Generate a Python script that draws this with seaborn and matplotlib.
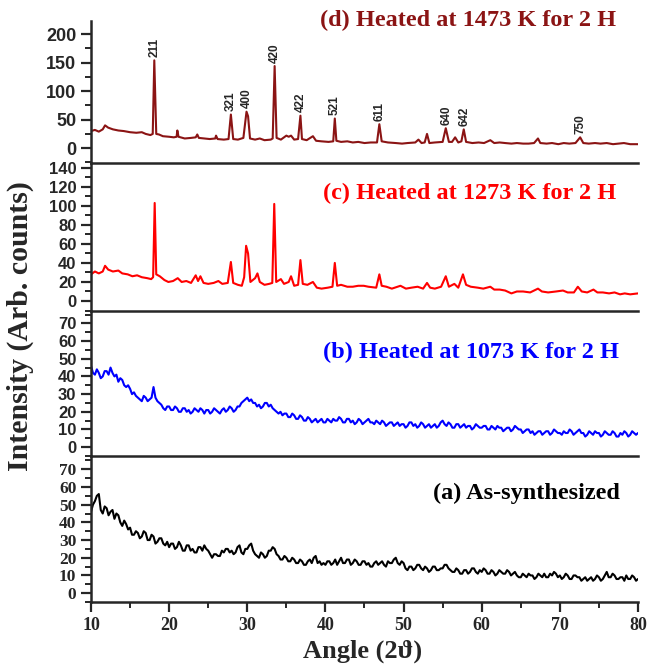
import numpy as np
import matplotlib
matplotlib.use("Agg")
import matplotlib.pyplot as plt
from matplotlib.ticker import MultipleLocator
import seaborn as sns

# (d) 1473 K - angle / intensity
angle_d = [10.0, 10.5, 11.0, 11.5, 11.8, 12.2, 12.8, 13.5, 14.2, 15.0, 15.8, 16.5, 17.0, 17.6, 17.9,
           18.1, 18.35, 18.7, 19.2, 20.0, 20.6, 20.95, 21.05, 21.2, 22.0, 22.8, 23.4, 23.6, 23.8, 24.5,
           25.2, 25.9, 26.0, 26.2, 27.0, 27.6, 27.9, 28.2, 28.8, 29.5, 29.9, 30.1, 30.35, 31.0, 31.6,
           32.2, 33.0, 33.25, 33.5, 33.75, 34.3, 35.0, 35.3, 35.6, 36.0, 36.5, 36.8, 37.0, 37.6, 38.4,
           38.8, 39.5, 40.4, 41.0, 41.2, 41.4, 42.0, 42.8, 43.5, 44.2, 45.0, 45.8, 46.6, 46.9, 47.2,
           48.0, 49.0, 49.8, 50.5, 51.5, 51.9, 52.3, 52.7, 53.0, 53.3, 54.0, 55.0, 55.4, 55.8, 56.2,
           56.6, 57.0, 57.4, 57.7, 58.0, 58.8, 59.6, 60.3, 61.1, 61.6, 62.3, 63.0, 63.8, 64.5, 65.3,
           66.0, 66.7, 67.2, 67.5, 68.3, 69.0, 69.8, 70.5, 71.2, 72.0, 72.6, 73.0, 73.7, 74.5, 75.2,
           76.0, 76.8, 77.5, 78.2, 79.0, 80.0]
counts_d = [30, 32, 29, 33, 40, 36, 33, 31, 30, 28, 27, 28, 25, 23, 25,
            154, 25, 24, 21, 20, 19, 20, 31, 20, 17, 18, 19, 24, 18, 17,
            16, 17, 22, 16, 15, 16, 59, 16, 15, 18, 64, 56, 17, 15, 17,
            14, 15, 17, 144, 18, 15, 22, 20, 22, 15, 16, 57, 16, 14, 21,
            13, 12, 11, 12, 52, 13, 11, 12, 10, 11, 9, 10, 10, 42, 12,
            10, 9, 8, 9, 10, 15, 9, 10, 25, 9, 10, 11, 35, 11, 11,
            19, 10, 12, 33, 11, 9, 10, 9, 14, 9, 10, 9, 8, 9, 8,
            8, 9, 17, 9, 8, 9, 7, 9, 8, 9, 19, 9, 8, 9, 8,
            9, 7, 8, 9, 7, 7]

# (c) 1273 K
angle_c = [10.0, 10.5, 11.0, 11.5, 11.8, 12.2, 12.8, 13.5, 14.0, 14.7, 15.3, 15.9, 16.5, 17.2, 17.7,
           17.95, 18.15, 18.35, 18.8, 19.4, 19.9, 20.5, 21.1, 21.6, 22.2, 22.8, 23.4, 23.7, 24.0, 24.4,
           25.0, 25.7, 26.3, 26.8, 27.5, 27.9, 28.2, 28.8, 29.3, 29.6, 29.85, 30.1, 30.4, 31.0, 31.3,
           31.6, 32.2, 32.8, 33.2, 33.45, 33.7, 34.3, 34.7, 35.3, 35.6, 36.0, 36.5, 36.8, 37.1, 37.7,
           38.4, 38.9, 39.5, 40.3, 40.9, 41.2, 41.5, 42.0, 42.8, 43.5, 44.2, 44.9, 45.5, 46.5, 46.9,
           47.2, 47.8, 48.5, 49.6, 50.3, 51.0, 51.8, 52.5, 53.0, 53.4, 54.0, 54.8, 55.4, 55.8, 56.5,
           57.0, 57.6, 58.0, 58.6, 59.5, 60.2, 61.1, 61.6, 62.3, 63.0, 63.8, 64.5, 65.3, 66.2, 67.2,
           67.7, 68.5, 69.5, 70.4, 71.0, 71.8, 72.3, 72.8, 73.5, 74.3, 74.8, 75.5, 76.3, 77.0, 77.7,
           78.3, 79.0, 80.0]
counts_c = [28, 31, 29, 31, 37, 33, 31, 32, 29, 28, 26, 27, 25, 24, 23,
            25, 103, 28, 26, 22, 20, 21, 24, 20, 21, 19, 27, 21, 26, 19,
            18, 19, 21, 18, 19, 41, 19, 17, 16, 25, 58, 50, 20, 24, 29,
            20, 17, 18, 19, 102, 20, 23, 18, 20, 26, 16, 17, 43, 18, 17,
            20, 14, 13, 14, 15, 40, 16, 17, 15, 15, 16, 16, 15, 14, 28,
            16, 15, 13, 16, 13, 14, 15, 13, 19, 14, 13, 15, 26, 15, 18,
            14, 28, 17, 15, 14, 13, 15, 12, 12, 11, 8, 10, 10, 9, 13,
            10, 9, 10, 11, 9, 9, 15, 10, 9, 12, 9, 9, 8, 9, 7,
            8, 7, 8]

# (b) 1073 K and (a) as-synthesized, read every 0.25 degree (one row = 5 degrees)
angle_grid = np.arange(10.0, 80.001, 0.25)
counts_b = [46, 42, 41, 44, 42, 39, 40, 43, 43, 41, 45, 42, 40, 41, 37, 39, 38, 35, 34, 35,
            33, 30, 31, 29, 28, 27, 26, 29, 28, 26, 27, 28, 34, 28, 26, 25, 24, 22, 21, 23,
            23, 21, 21, 23, 22, 20, 20, 22, 22, 20, 21, 19, 20, 22, 21, 20, 22, 21, 19, 21,
            21, 19, 20, 22, 21, 20, 19, 21, 22, 20, 21, 23, 22, 20, 21, 23, 23, 25, 26, 27,
            28, 26, 27, 25, 25, 23, 24, 22, 23, 25, 25, 23, 24, 22, 21, 20, 19, 20, 18, 19,
            19, 17, 17, 19, 18, 16, 16, 18, 17, 15, 15, 17, 16, 14, 15, 16, 14, 15, 16, 14,
            14, 16, 15, 14, 16, 15, 15, 17, 16, 14, 14, 16, 16, 14, 15, 13, 14, 16, 15, 13,
            14, 15, 16, 14, 14, 13, 15, 14, 13, 15, 14, 12, 13, 14, 14, 12, 13, 14, 12, 13,
            13, 11, 12, 14, 14, 12, 13, 11, 12, 14, 13, 11, 12, 13, 11, 12, 13, 11, 12, 14,
            15, 13, 12, 14, 13, 11, 11, 13, 13, 11, 12, 13, 11, 12, 12, 10, 11, 13, 12, 11,
            11, 12, 12, 10, 10, 12, 11, 10, 12, 11, 11, 9, 10, 11, 11, 9, 10, 12, 11, 10,
            10, 8, 9, 10, 10, 8, 9, 7, 8, 9, 9, 7, 8, 9, 9, 7, 8, 10, 9, 8,
            8, 7, 9, 8, 8, 10, 9, 7, 8, 9, 10, 8, 8, 6, 7, 9, 8, 7, 9, 8,
            8, 6, 7, 9, 8, 7, 7, 9, 8, 6, 6, 8, 7, 9, 8, 6, 7, 9, 8, 7,
            8]
counts_a = [46, 50, 52, 55, 56, 47, 45, 49, 48, 44, 46, 47, 42, 45, 44, 40, 38, 41, 39, 36,
            37, 33, 33, 35, 34, 31, 32, 35, 34, 30, 30, 33, 32, 28, 29, 31, 31, 28, 27, 29,
            26, 28, 28, 25, 26, 29, 27, 24, 24, 27, 27, 24, 25, 23, 23, 26, 26, 24, 27, 25,
            24, 22, 20, 22, 22, 21, 21, 24, 23, 25, 25, 23, 24, 22, 23, 26, 27, 23, 22, 25,
            25, 27, 28, 24, 22, 21, 20, 23, 22, 20, 21, 24, 24, 26, 25, 22, 21, 19, 19, 21,
            20, 18, 18, 20, 19, 17, 17, 19, 18, 16, 16, 18, 19, 17, 20, 21, 17, 18, 16, 17,
            16, 18, 18, 16, 17, 19, 16, 18, 20, 17, 17, 19, 19, 16, 17, 19, 18, 16, 16, 18,
            18, 16, 17, 15, 15, 17, 18, 16, 17, 18, 16, 15, 18, 17, 17, 19, 20, 17, 16, 18,
            17, 14, 13, 15, 15, 13, 14, 16, 16, 14, 13, 15, 14, 12, 13, 15, 15, 13, 13, 14,
            14, 16, 16, 14, 13, 12, 12, 14, 13, 11, 11, 13, 13, 11, 12, 14, 14, 12, 11, 13,
            12, 14, 13, 11, 11, 13, 12, 10, 11, 13, 12, 11, 11, 13, 12, 10, 11, 12, 10, 9,
            9, 11, 10, 9, 11, 10, 10, 8, 9, 11, 10, 9, 11, 9, 9, 11, 10, 12, 11, 9,
            10, 8, 9, 11, 10, 8, 8, 10, 10, 9, 9, 7, 8, 9, 7, 8, 9, 7, 8, 10,
            9, 7, 8, 10, 12, 9, 9, 11, 10, 8, 8, 9, 9, 7, 10, 8, 8, 10, 9, 7,
            8]

# hkl labels for the 1473 K pattern
hkl = ["211", "321", "400", "420", "422", "521", "611", "640", "642", "750"]
hkl_angle = [18.1, 27.9, 29.9, 33.5, 36.8, 41.2, 46.9, 55.5, 57.8, 72.6]
hkl_counts = [154, 59, 64, 144, 57, 52, 42, 35, 33, 19]

sns.set_style("ticks")
serif = ["Liberation Serif", "DejaVu Serif"]
sans = ["Liberation Sans", "DejaVu Sans"]

W, H = 647, 665
fig = plt.figure(figsize=(W / 100, H / 100), dpi=100)


def px_axes(top, bottom):
    return fig.add_axes([91 / W, 1 - bottom / H, (638 - 91) / W, (bottom - top) / H])


ax_d = px_axes(21, 163)
ax_c = px_axes(163, 311)
ax_b = px_axes(311, 456)
ax_a = px_axes(456, 602)

panels = [
    (ax_d, angle_d, counts_d, "#8b1414", (-26, 223), 50, 25, sans, 13),
    (ax_c, angle_c, counts_c, "#ff0000", (-10.5, 145), 20, 10, sans, 12),
    (ax_b, list(angle_grid), counts_b, "#0000ff", (-5, 77), 10, 5, sans, 12),
    (ax_a, list(angle_grid), counts_a, "black", (-5, 77.5), 10, 5, serif, 12.5),
]

for ax, xs, ys, col, ylim, major, minor, fam, fs in panels:
    sns.lineplot(x=xs, y=ys, ax=ax, color=col, lw=1.5, estimator=None)
    ax.set_xlim(10, 80)
    ax.set_ylim(*ylim)
    ax.yaxis.set_major_locator(MultipleLocator(major))
    ax.yaxis.set_minor_locator(MultipleLocator(minor))
    ax.set_ylabel("")
    ax.set_xlabel("")
    ax.spines["right"].set_visible(False)
    ax.spines["top"].set_visible(False)
    for s in ["left", "bottom"]:
        ax.spines[s].set_linewidth(1.8)
    ax.tick_params(axis="y", which="major", length=7, width=1.6, direction="out")
    ax.tick_params(axis="y", which="minor", length=4, width=1.4, direction="out")
    for lab in ax.get_yticklabels():
        lab.set_family(fam)
        lab.set_fontweight("bold")
        lab.set_fontsize(fs)
    ax.set_facecolor("none")

for ax in [ax_d, ax_c, ax_b]:
    ax.tick_params(axis="x", which="both", bottom=False, labelbottom=False)

ax_a.xaxis.set_major_locator(MultipleLocator(10))
ax_a.xaxis.set_minor_locator(MultipleLocator(5))
ax_a.tick_params(axis="x", which="major", length=7, width=1.6, direction="out")
ax_a.tick_params(axis="x", which="minor", length=4, width=1.4, direction="out")
for lab in ax_a.get_xticklabels():
    lab.set_family(serif)
    lab.set_fontweight("bold")
    lab.set_fontsize(13)

for name, xa, ya in zip(hkl, hkl_angle, hkl_counts):
    ax_d.text(xa, ya + 6, name, rotation=90, ha="center", va="bottom",
              fontsize=8.5, fontweight="bold", family=sans)

titles = [
    ("(d) Heated at 1473 K for 2 H", "#8b1414", 320, 20, "left"),
    ("(c) Heated at 1273 K for 2 H", "#ff0000", 323, 193, "left"),
    ("(b) Heated at 1073 K for 2 H", "#0000ff", 323, 352, "left"),
    ("(a) As-synthesized", "black", 620, 493, "right"),
]
for txt, col, x, y, ha in titles:
    fig.text(x / W, 1 - y / H, txt, color=col, ha=ha, va="center",
             fontsize=17.5, fontweight="bold", family=serif)

fig.text(20 / W, 1 - 326 / H, "Intensity (Arb. counts)", rotation=90, ha="center", va="center",
         fontsize=21.5, fontweight="bold", family=serif)
fig.text(363 / W, 1 - 651 / H, "Angle (2\u03d1)", ha="center", va="center",
         fontsize=19, fontweight="bold", family=serif)

fig.savefig("out.png", dpi=100)
